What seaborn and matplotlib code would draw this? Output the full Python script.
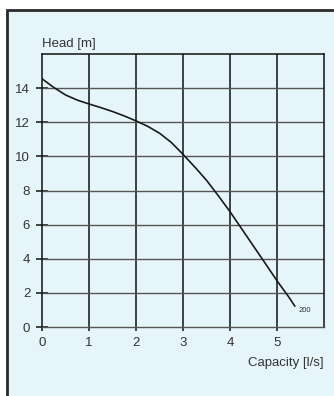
import matplotlib
matplotlib.use("Agg")
import matplotlib.pyplot as plt
from matplotlib.patches import Rectangle
import seaborn as sns
import pandas as pd

# Pump curve readings: capacity [l/s] vs head [m]
capacity = [0.0, 0.25, 0.5, 0.75, 1.0, 1.25, 1.5, 1.75, 2.0, 2.25, 2.5, 2.75,
            3.0, 3.25, 3.5, 3.75, 4.0, 4.25, 4.5, 4.75, 5.0, 5.25, 5.38]
head = [14.55, 14.04, 13.60, 13.30, 13.07, 12.86, 12.63, 12.37, 12.08, 11.76,
        11.36, 10.82, 10.12, 9.38, 8.60, 7.70, 6.76, 5.75, 4.74, 3.73, 2.71,
        1.76, 1.22]
curve_label = "200"
x_ticks = [0, 1, 2, 3, 4, 5]
y_ticks = [0, 2, 4, 6, 8, 10, 12, 14]

sns.set_theme(style="white")
plt.rcParams["font.family"] = ["Liberation Sans", "DejaVu Sans"]

panel_bg = "#e6f5f9"
text_color = "#333333"
fig = plt.figure(figsize=(3.34, 3.96), dpi=100)
fig.patch.set_facecolor("white")

# Framed panel behind the chart
fig.patches.append(Rectangle((7 / 334, -0.05), 1.1, 1 - 10 / 396 + 0.05,
                             transform=fig.transFigure, facecolor=panel_bg,
                             edgecolor="#2a2a2a", linewidth=2.0, zorder=-10))

ax = fig.add_axes([42 / 334, 1 - 327 / 396, 282 / 334, 273 / 396])
ax.set_zorder(5)
ax.set_facecolor(panel_bg)

df = pd.DataFrame({"capacity": capacity, "head": head})
sns.lineplot(data=df, x="capacity", y="head", ax=ax, color="#1a1a1a",
             linewidth=1.2, zorder=5)

ax.set_xlim(0, 6)
ax.set_ylim(0, 16)
ax.set_xticks(x_ticks)
ax.set_yticks(y_ticks)

# Grid: black verticals, grey horizontals
for xv in [1, 2, 3, 4, 5]:
    ax.axvline(xv, color="#111111", linewidth=1.1, zorder=2)
for yv in [2, 4, 6, 8, 10, 12, 14]:
    ax.axhline(yv, color="#555555", linewidth=1.0, zorder=2)

for side in ["top", "left", "right"]:
    ax.spines[side].set_color("#111111")
    ax.spines[side].set_linewidth(1.1)
ax.spines["bottom"].set_color("#555555")
ax.spines["bottom"].set_linewidth(1.0)

ax.tick_params(axis="y", direction="inout", length=9, width=1.1, color="#111111",
               labelsize=9.5, labelcolor=text_color, pad=4, left=True)
ax.tick_params(axis="x", direction="out", length=3, width=1.1, color="#111111",
               labelsize=9.5, labelcolor=text_color, pad=4, bottom=True)

ax.set_xlabel("")
ax.set_ylabel("")
ax.text(0.0, 1.015, "Head [m]", transform=ax.transAxes, ha="left", va="bottom",
        fontsize=9.5, color=text_color)
ax.text(1.0, -0.11, "Capacity [l/s]", transform=ax.transAxes, ha="right",
        va="top", fontsize=9.5, color=text_color)

ax.annotate(curve_label, xy=(capacity[-1], head[-1]), xytext=(3, -3),
            textcoords="offset points", fontsize=5.5, color=text_color,
            ha="left", va="center")

fig.savefig("out.png", dpi=100, facecolor=fig.get_facecolor())
